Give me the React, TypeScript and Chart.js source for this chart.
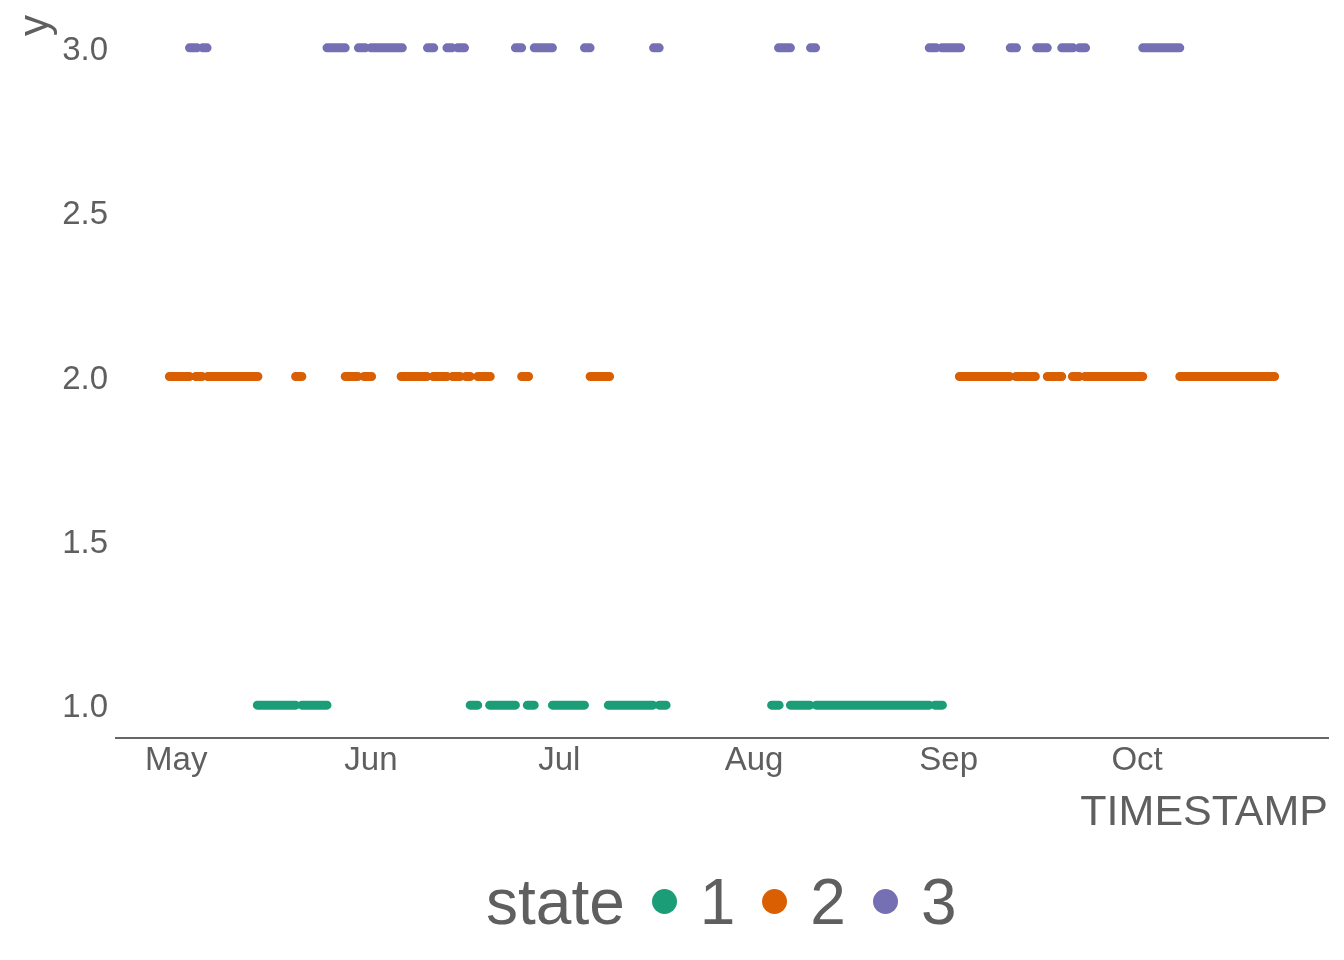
import { useEffect, useRef } from 'react'
import Chart from 'chart.js/auto'

// timestamps are days since 1 May; each run is a stretch of consecutive readings in one state
const state1Runs: [number, number][] = [
  [12.9, 19.0], [20.0, 24.0], [46.8, 48.0], [49.9, 54.0], [55.9, 57.0], [59.9, 65.0],
  [68.8, 75.9], [76.9, 78.0], [94.8, 96.0], [97.8, 100.9], [101.9, 119.9], [120.8, 122.0],
]
const state2Runs: [number, number][] = [
  [-1.1, 2.1], [3.1, 4.1], [5.0, 13.0], [19.0, 20.0], [26.9, 28.9], [29.9, 31.1],
  [35.8, 39.9], [40.9, 43.1], [44.0, 45.2], [46.1, 46.8], [48.0, 50.0], [55.0, 56.1],
  [65.9, 69.0], [124.7, 132.7], [133.7, 136.8], [138.7, 141.0], [142.7, 143.8],
  [144.7, 153.9], [159.8, 174.9],
]
const state3Runs: [number, number][] = [
  [2.1, 3.3], [4.2, 4.9], [24.0, 26.9], [29.0, 30.1], [31.0, 36.0], [40.0, 41.0],
  [43.1, 43.9], [44.8, 45.9], [54.0, 55.0], [57.0, 59.9], [65.0, 65.9], [76.0, 76.9],
  [95.9, 97.8], [101.0, 101.8], [119.9, 121.0], [121.9, 124.9], [132.8, 133.8],
  [137.0, 138.7], [141.0, 142.8], [143.8, 144.8], [153.9, 159.8],
]

const monthStarts = [0, 31, 61, 92, 123, 153]
const monthLabels = ['May', 'Jun', 'Jul', 'Aug', 'Sep', 'Oct']
const yTicks = [1, 1.5, 2, 2.5, 3]
const stateNames = ['1', '2', '3']
const stateColors = ['#1B9E77', '#D95F02', '#7570B3']

const FONT = "'Liberation Sans', Arial, sans-serif"
const GREY = '#5f5f5f'

// a null point after each run breaks the line, so every run is its own capsule
function runsToPoints(runs: [number, number][], y: number) {
  const pts: { x: number; y: number | null }[] = []
  runs.forEach(([a, b]) => {
    pts.push({ x: a, y }, { x: b, y }, { x: b, y: null })
  })
  return pts
}

export default function App() {
  const canvasRef = useRef<HTMLCanvasElement>(null)
  const chartRef = useRef<Chart | null>(null)

  useEffect(() => {
    if (!canvasRef.current) return
    if (chartRef.current) {
      chartRef.current.destroy()
      chartRef.current = null
    }

    chartRef.current = new Chart(canvasRef.current, {
      type: 'line',
      data: {
        datasets: [state1Runs, state2Runs, state3Runs].map((runs, i) => ({
          label: stateNames[i],
          data: runsToPoints(runs, i + 1),
          borderColor: stateColors[i],
          backgroundColor: stateColors[i],
          borderWidth: 9,
          borderCapStyle: 'round' as const,
          borderJoinStyle: 'round' as const,
          pointRadius: 0,
          pointHoverRadius: 0,
          spanGaps: false,
          tension: 0,
          fill: false,
        })),
      },
      options: {
        responsive: false,
        animation: false,
        events: [],
        layout: { padding: { top: 15, right: 16, left: 0, bottom: 0 } },
        plugins: {
          legend: { display: false },
          tooltip: { enabled: false },
        },
        scales: {
          x: {
            type: 'linear',
            min: -9.6,
            max: 183.4,
            afterBuildTicks: (s) => {
              s.ticks = monthStarts.map((v) => ({ value: v }))
            },
            afterFit: (s) => {
              s.height = 122
              s.paddingLeft = 0
              s.paddingRight = 0
            },
            grid: { display: false, drawTicks: false },
            border: { display: true, color: '#666666', width: 2 },
            ticks: {
              padding: 3,
              color: GREY,
              autoSkip: false,
              maxRotation: 0,
              font: { family: FONT, size: 33 },
              callback: (_v, i) => monthLabels[i],
            },
            title: {
              display: true,
              text: 'TIMESTAMP',
              align: 'end',
              color: GREY,
              font: { family: FONT, size: 43 },
              padding: { top: 0, bottom: 21 },
            },
          },
          y: {
            type: 'linear',
            min: 0.9,
            max: 3.1,
            afterBuildTicks: (s) => {
              s.ticks = yTicks.map((v) => ({ value: v }))
            },
            afterFit: (s) => {
              s.width = 116
              s.paddingTop = 0
              s.paddingBottom = 0
            },
            grid: { display: false, drawTicks: false },
            border: { display: false },
            ticks: {
              padding: 8,
              labelOffset: 3,
              color: GREY,
              font: { family: FONT, size: 33 },
              callback: (v) => Number(v).toFixed(1),
            },
            title: {
              display: true,
              text: 'y',
              align: 'end',
              color: GREY,
              font: { family: FONT, size: 42 },
              padding: { top: 11, bottom: 0 },
            },
          },
        },
      },
    })

    return () => {
      if (chartRef.current) {
        chartRef.current.destroy()
        chartRef.current = null
      }
    }
  }, [])

  return (
    <div style={{ position: 'absolute', left: 0, top: 0, width: 1344, height: 960, background: '#fff' }}>
      <canvas ref={canvasRef} width={1344} height={860} style={{ display: 'block' }} />
      <div
        style={{
          position: 'absolute',
          left: 486,
          top: 870,
          display: 'flex',
          alignItems: 'center',
          fontFamily: FONT,
          fontSize: 64,
          lineHeight: '64px',
          color: GREY,
          whiteSpace: 'nowrap',
        }}
      >
        <span>state</span>
        {stateNames.map((n, i) => (
          <span key={n} style={{ display: 'flex', alignItems: 'center' }}>
            <span
              style={{
                display: 'inline-block',
                width: 25,
                height: 25,
                borderRadius: '50%',
                background: stateColors[i],
                marginLeft: 27,
                marginRight: 23,
                position: 'relative',
                top: -1,
              }}
            />
            <span>{n}</span>
          </span>
        ))}
      </div>
    </div>
  )
}
